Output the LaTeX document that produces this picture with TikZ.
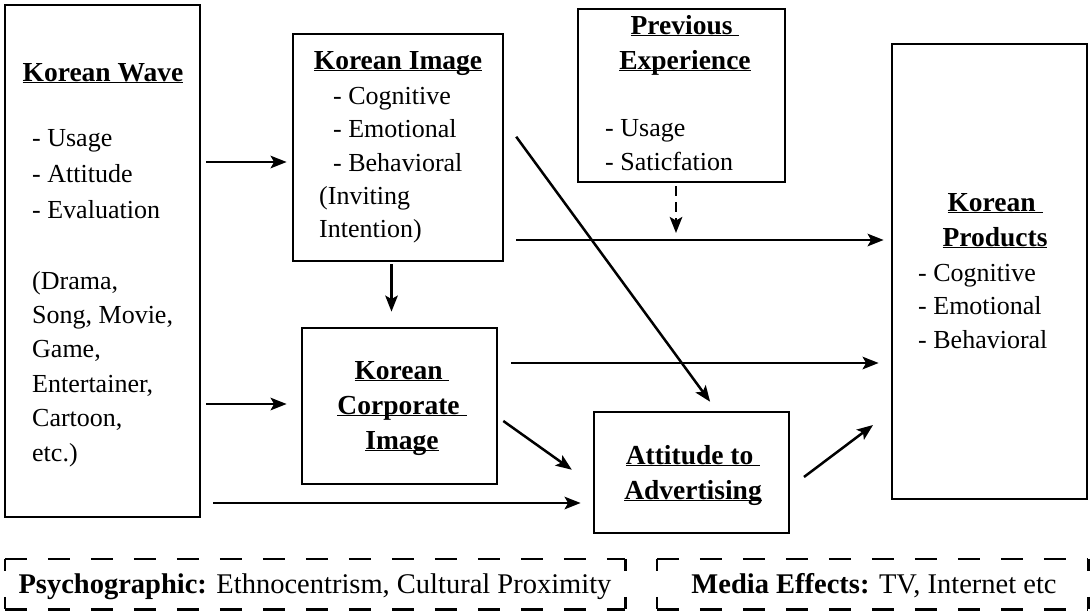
\documentclass[tikz,border=0pt]{standalone}
\usepackage{fontspec}
\setmainfont{Liberation Serif}
\usetikzlibrary{arrows.meta}
\newcommand{\ulx}[1]{\underline{\smash{#1}}}
\begin{document}
\begin{tikzpicture}[x=1pt,y=-1pt,
  box/.style={draw, line width=2.8pt, inner sep=0pt},
  txt/.style={inner sep=0pt, font=\fontsize{26}{30}\selectfont, text height=18pt, text depth=6pt, anchor=west},
  ttl/.style={inner sep=0pt, font=\fontsize{27.5}{30}\selectfont\bfseries, text height=18pt, text depth=6pt},
  tip/.style={-{Stealth[length=16pt,width=12.5pt,inset=3.5pt]}},
  arr/.style={line width=2.5pt, tip},
  dline/.style={line width=2.6pt, dash pattern=on 22pt off 21pt},
  dside/.style={line width=2.6pt, dash pattern=on 12pt off 26pt},
  btxt/.style={inner sep=0pt, font=\fontsize{28.5}{30}\selectfont, text height=19pt, text depth=6pt},
]
\useasboundingbox (0,0) rectangle (1092,614);
% boxes
\node[box, minimum width=195pt, minimum height=512pt] (kw) at (102.5,261) {};
\node[box, minimum width=210pt, minimum height=227pt] (ki) at (398,147.5) {};
\node[box, minimum width=207pt, minimum height=173pt] (pe) at (681.5,95.5) {};
\node[box, minimum width=195pt, minimum height=455pt] (kp) at (989.5,271.5) {};
\node[box, minimum width=195pt, minimum height=156pt] (kci) at (399.5,406) {};
\node[box, minimum width=195pt, minimum height=121pt] (ata) at (691.5,472.5) {};
% Korean Wave text
\node[ttl] (kwt) at (103,75) {\ulx{Korean Wave}};
\node[txt] (kw1) at (32,140) {- Usage};
\node[txt] (kw2) at (32,176) {- Attitude};
\node[txt] (kw3) at (32,212) {- Evaluation};
\node[txt] (kw4) at (32,283) {(Drama,};
\node[txt] (kw5) at (32,317) {Song, Movie,};
\node[txt] (kw6) at (32,351) {Game,};
\node[txt] (kw7) at (32,386) {Entertainer,};
\node[txt] (kw8) at (32,420) {Cartoon,};
\node[txt] (kw9) at (32,455) {etc.)};
% Korean Image text
\node[ttl] (kit) at (398,63) {\ulx{Korean Image}};
\node[txt] (ki1) at (333,98) {- Cognitive};
\node[txt] (ki2) at (333,131) {- Emotional};
\node[txt] (ki3) at (333,165) {- Behavioral};
\node[txt] (ki4) at (319,198) {(Inviting};
\node[txt] (ki5) at (319,231) {Intention)};
% Previous Experience
\node[ttl] (pet1) at (685,28) {\ulx{Previous\ }};
\node[ttl] (pet2) at (685,63) {\ulx{Experience}};
\node[txt] (pe1) at (605,130) {- Usage};
\node[txt] (pe2) at (605,164) {- Saticfation};
% Korean Products
\node[ttl] (kpt1) at (995,205) {\ulx{Korean\ }};
\node[ttl] (kpt2) at (995,240) {\ulx{Products}};
\node[txt] (kp1) at (918,275) {- Cognitive};
\node[txt] (kp2) at (918,308) {- Emotional};
\node[txt] (kp3) at (918,342) {- Behavioral};
% Korean Corporate Image
\node[ttl] (kct1) at (402,373) {\ulx{Korean\ }};
\node[ttl] (kct2) at (402,408) {\ulx{Corporate\ }};
\node[ttl] (kct3) at (402,443) {\ulx{Image}};
% Attitude to Advertising
\node[ttl] (att1) at (693,458) {\ulx{Attitude to\ }};
\node[ttl] (att2) at (693,493) {\ulx{Advertising}};
% arrows
\draw[arr, shorten <=5pt, shorten >=5pt] (kw.east |- 0,162) -- (ki.west |- 0,162);
\draw[arr, shorten <=5pt, shorten >=14pt] (kw.east |- 0,404) -- (kci.west |- 0,404);
\draw[arr, shorten <=12pt, shorten >=12pt] (kw.east |- 0,503) -- (ata.west |- 0,503);
\draw[arr, shorten <=12pt, shorten >=7pt] (ki.east |- 0,240) -- (kp.west |- 0,240);
\draw[arr, shorten <=13pt, shorten >=12pt] (kci.east |- 0,363) -- (kp.west |- 0,363);
\draw[arr, shorten <=2pt, shorten >=15pt] (ki.south -| 391.5,0) -- (kci.north -| 391.5,0);
\draw[arr, shorten <=20pt, shorten >=11pt] (ki.east |- 0,120.6) -- (ata.north -| 716.6,0);
\draw[arr, shorten <=6pt, shorten >=25.5pt] (kci.east |- 0,417.5) -- (ata.west |- 0,484.5);
\draw[arr, shorten <=17pt, shorten >=22pt] (ata.east |- 0,487.2) -- (kp.west |- 0,411.8);
\coordinate (peend) at (676,233);
\draw[line width=2.5pt, dash pattern=on 10pt off 6pt, tip, shorten <=3pt] (pe.south -| 676,0) -- (peend);
% dashed boxes
\node[minimum width=620pt, minimum height=50pt, inner sep=0pt] (d1) at (315,584) {};
\node[minimum width=431pt, minimum height=50pt, inner sep=0pt] (d2) at (872.5,584) {};
\foreach \d in {d1,d2}{
  \draw[dline] (\d.north west) -- (\d.north east);
  \draw[dline] (\d.south west) -- (\d.south east);
  \draw[dside] (\d.north west) -- (\d.south west);
  \draw[dside] (\d.north east) -- (\d.south east);
}
\node[btxt] (d1t) at (315,587) {\textbf{Psychographic:} Ethnocentrism, Cultural Proximity};
\node[btxt] (d2t) at (874,587) {\textbf{Media Effects:} TV, Internet etc};
\end{tikzpicture}
\end{document}
